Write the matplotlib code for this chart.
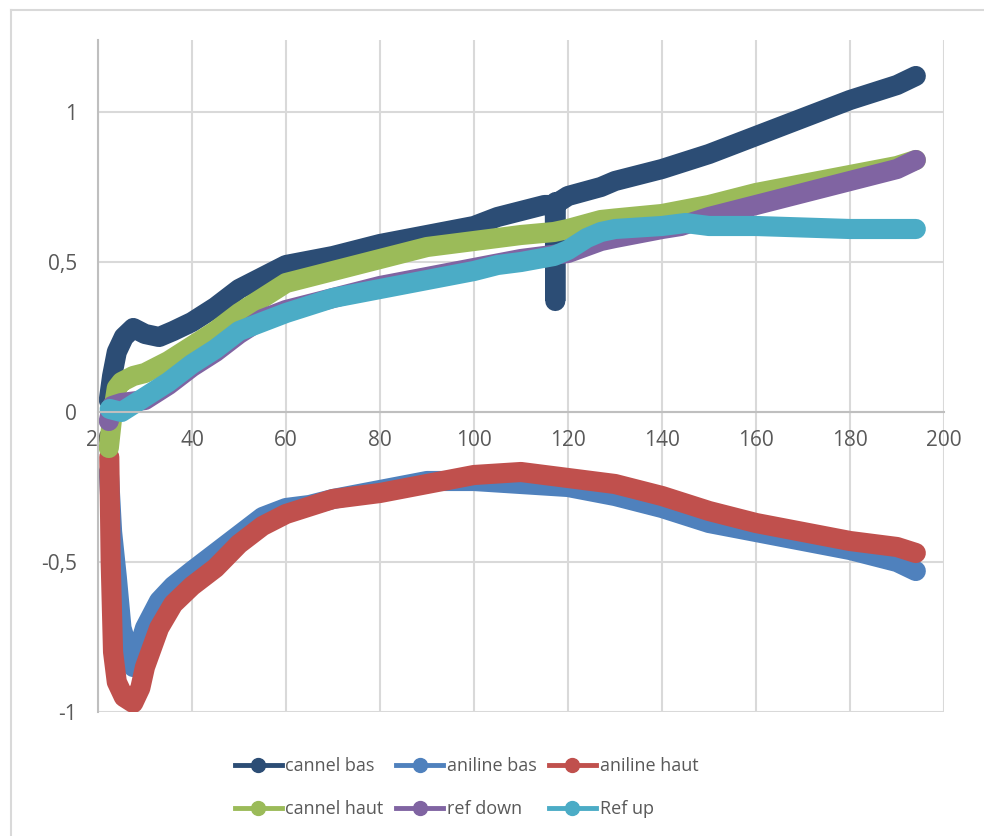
import matplotlib
matplotlib.use('Agg')
import matplotlib.pyplot as plt
from matplotlib.lines import Line2D

plt.rcParams['font.family'] = ['Open Sans', 'DejaVu Sans']

# cannel bas
x_cb = [22.3, 23, 24, 25.5, 27.5, 30, 33, 36, 40, 45, 50, 55, 60, 70, 80, 90, 100, 105, 110,
        115, 117.2, 117.3, 117.4, 118, 120, 127, 130, 140, 150, 160, 170, 180, 190, 194]
y_cb = [0.04, 0.12, 0.2, 0.25, 0.28, 0.26, 0.25, 0.27, 0.3, 0.35, 0.41, 0.45, 0.49, 0.52, 0.56, 0.59, 0.62,
        0.65, 0.67, 0.69, 0.69, 0.37, 0.7, 0.7, 0.72, 0.75, 0.77, 0.81, 0.86, 0.92, 0.98, 1.04, 1.09, 1.12]

# aniline bas
x_ab = [22.3, 23, 24, 25, 27.5, 30, 33, 36, 40, 45, 50, 55, 60, 65, 70, 80, 90, 100, 110,
        120, 130, 140, 150, 160, 170, 180, 190, 194]
y_ab = [-0.2, -0.4, -0.55, -0.72, -0.85, -0.72, -0.63, -0.58, -0.53, -0.47, -0.41, -0.35, -0.32, -0.31,
        -0.29, -0.26, -0.23, -0.23, -0.24, -0.25, -0.28, -0.32, -0.37, -0.4, -0.43, -0.46, -0.5, -0.53]

# aniline haut
x_ah = [22.4, 22.7, 23.2, 24, 25.5, 27.5, 29, 30, 33, 36, 40, 45, 50, 55, 60, 70, 80, 90,
        100, 110, 120, 130, 140, 150, 160, 170, 180, 190, 194]
y_ah = [-0.15, -0.5, -0.8, -0.9, -0.95, -0.97, -0.92, -0.85, -0.72, -0.64, -0.58, -0.52, -0.44, -0.38,
        -0.34, -0.29, -0.27, -0.24, -0.21, -0.2, -0.22, -0.24, -0.28, -0.33, -0.37, -0.4, -0.43, -0.45, -0.47]

# cannel haut
x_ch = [22.3, 23, 24, 25, 27.5, 30, 35, 40, 45, 50, 55, 60, 70, 80, 90, 100, 110, 117,
        120, 127, 130, 140, 150, 160, 170, 180, 190, 194]
y_ch = [-0.12, -0.02, 0.08, 0.1, 0.12, 0.13, 0.17, 0.22, 0.27, 0.33, 0.38, 0.43, 0.47, 0.51, 0.55, 0.57,
        0.59, 0.6, 0.61, 0.64, 0.645, 0.66, 0.69, 0.73, 0.76, 0.79, 0.82, 0.84]

# ref down
x_rd = [22.3, 23, 25, 30, 35, 40, 45, 50, 55, 60, 70, 80, 90, 100, 110, 120, 127, 130,
        140, 144, 150, 160, 170, 180, 190, 194]
y_rd = [-0.03, 0.02, 0.03, 0.04, 0.09, 0.15, 0.2, 0.26, 0.31, 0.34, 0.38, 0.42, 0.45, 0.48, 0.51, 0.53,
        0.57, 0.58, 0.61, 0.62, 0.65, 0.69, 0.73, 0.77, 0.81, 0.84]

# Ref up
x_ru = [22.5, 25, 30, 35, 40, 45, 50, 55, 60, 70, 80, 90, 100, 105, 110, 117, 120, 124,
        127, 130, 140, 145, 150, 160, 170, 180, 190, 194]
y_ru = [0.01, 0.0, 0.05, 0.1, 0.16, 0.21, 0.27, 0.3, 0.33, 0.38, 0.41, 0.44, 0.47, 0.49, 0.5, 0.52,
        0.54, 0.58, 0.6, 0.61, 0.62, 0.63, 0.62, 0.62, 0.615, 0.61, 0.61, 0.61]

series = [
    ('cannel bas', x_cb, y_cb, '#2C4D75'),
    ('aniline bas', x_ab, y_ab, '#4F81BD'),
    ('aniline haut', x_ah, y_ah, '#C0504D'),
    ('cannel haut', x_ch, y_ch, '#9BBB59'),
    ('ref down', x_rd, y_rd, '#8064A2'),
    ('Ref up', x_ru, y_ru, '#4BACC6'),
]

x_ticks = [20, 40, 60, 80, 100, 120, 140, 160, 180, 200]
y_ticks = [-1, -0.5, 0, 0.5, 1]
y_labels = ['-1', '-0,5', '0', '0,5', '1']

fig = plt.figure(figsize=(9.84, 8.36), dpi=100)
ax = fig.add_axes([98 / 984, 124 / 836, 846 / 984, 672 / 836])

for name, xs, ys, col in series:
    ax.plot(xs, ys, color=col, linewidth=14.5, solid_capstyle='round', solid_joinstyle='round')

ax.set_xlim(20, 200)
ax.set_ylim(-1, 1.24)
ax.set_xticks(x_ticks)
ax.set_yticks(y_ticks)
ax.set_yticklabels(y_labels)
ax.grid(True, color='#D9D9D9', linewidth=1.5)
ax.set_axisbelow(True)
ax.tick_params(length=0, labelsize=15, labelcolor='#595959')
ax.tick_params(axis='y', pad=15)

# x axis crosses at 0
ax.spines['bottom'].set_position(('data', 0))
ax.spines['bottom'].set_color('#BFBFBF')
ax.spines['bottom'].set_linewidth(1.5)
ax.spines['left'].set_color('#BFBFBF')
ax.spines['left'].set_linewidth(1.5)
ax.spines['top'].set_visible(False)
ax.spines['right'].set_visible(False)
ax.tick_params(axis='x', pad=13)

# legend, Excel order row by row (matplotlib fills columns)
order = [0, 3, 1, 4, 2, 5]
handles = [Line2D([], [], color=series[i][3], linewidth=3.5, marker='o', markersize=10) for i in order]
labels = [series[i][0] for i in order]
leg = fig.legend(handles, labels, loc='center', bbox_to_anchor=(0.474, 0.058), ncol=3, frameon=False,
                 fontsize=13, handlelength=2.6, columnspacing=0.7, handletextpad=0.2, labelspacing=1.4)
for t in leg.get_texts():
    t.set_color('#595959')

# chart area border (left and top visible)
fig.add_artist(Line2D([11 / 984, 11 / 984], [0, 1 - 10 / 836], color='#D9D9D9', linewidth=1.5))
fig.add_artist(Line2D([11 / 984, 1], [1 - 10 / 836, 1 - 10 / 836], color='#D9D9D9', linewidth=1.5))

fig.savefig('out.png', dpi=100)
